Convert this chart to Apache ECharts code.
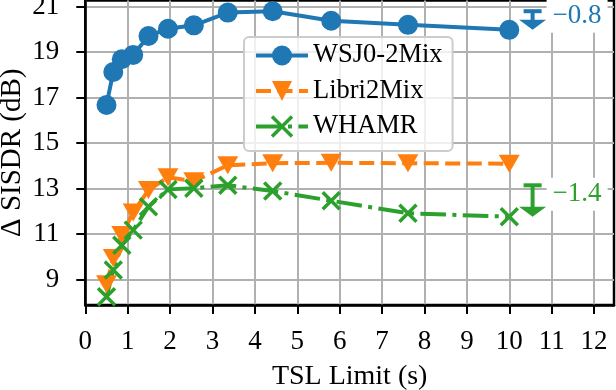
<!DOCTYPE html>
<html>
<head>
<meta charset="utf-8">
<script src="https://cdn.jsdelivr.net/npm/echarts@6/dist/echarts.min.js"></script>
<style>html,body{margin:0;padding:0;background:#fff}#c{width:616px;height:390px}</style>
</head>
<body>
<div id="c"></div>
<script>
const tslLimits = [0.5, 0.66, 0.86, 1.13, 1.49, 1.95, 2.56, 3.36, 4.42, 5.8, 7.61, 10];
const wsj0 = [16.68, 18.13, 18.69, 18.88, 19.71, 20.03, 20.18, 20.74, 20.8, 20.38, 20.2, 19.98];
const libri = [8.8, 9.95, 10.97, 11.96, 12.94, 13.5, 13.33, 14.03, 14.12, 14.14, 14.12, 14.1];
const whamr = [8.25, 9.43, 10.52, 11.18, 12.21, 12.97, 13.02, 13.15, 12.9, 12.47, 11.92, 11.77];
const seriesNames = ['WSJ0-2Mix', 'Libri2Mix', 'WHAMR'];
const xTicks = [0,1,2,3,4,5,6,7,8,9,10,11,12];
const yTicks = [9,11,13,15,17,19,21];
const annotX = 10.55;
const annotLabels = ['\u22120.8', '\u22121.4'];

const FONT = 'Liberation Serif';
const colors = ['#1f77b4', '#ff7f0e', '#2ca02c'];
const pts = ys => tslLimits.map((x, i) => [x, ys[i]]);

const annotData = [
  [annotX, Math.max(...wsj0), wsj0[wsj0.length - 1]],
  [annotX, Math.max(...whamr), whamr[whamr.length - 1]]
];
const annotColors = [colors[0], colors[2]];
const annotTextDy = [5, 9];

const chart = echarts.init(document.getElementById('c'), null, {renderer: 'canvas'});
chart.setOption({
  animation: false,
  grid: {left: 85.3, right: 2, top: 0.5, bottom: 85, outerBoundsMode: 'none', containLabel: false,
         show: true, borderColor: '#000', borderWidth: 2.5, backgroundColor: 'transparent'},
  xAxis: {
    type: 'value', min: 0, max: 12.47,
    name: 'TSL Limit (s)', nameLocation: 'middle', nameGap: 58,
    nameTextStyle: {fontFamily: FONT, fontSize: 28, color: '#000'},
    axisLine: {show: true, lineStyle: {color: '#000', width: 2.5}},
    axisTick: {show: true, length: 9, lineStyle: {color: '#000', width: 2}, customValues: xTicks},
    axisLabel: {fontFamily: FONT, fontSize: 27, color: '#000', margin: 23, customValues: xTicks},
    splitLine: {show: true, lineStyle: {color: '#b0b0b0', width: 2}}
  },
  yAxis: {
    type: 'value', min: 7.89, max: 21.27,
    name: '\u0394 SISDR (dB)', nameLocation: 'middle', nameGap: 58, nameMoveOverlap: false,
    nameTextStyle: {fontFamily: FONT, fontSize: 29, color: '#000'},
    axisLine: {show: true, lineStyle: {color: '#000', width: 2.5}},
    axisTick: {show: true, length: 9, lineStyle: {color: '#000', width: 2}, customValues: yTicks},
    axisLabel: {fontFamily: FONT, fontSize: 27, color: '#000', margin: 26, customValues: yTicks},
    splitLine: {show: true, lineStyle: {color: '#b0b0b0', width: 2}}
  },
  legend: {
    show: true, orient: 'vertical', left: 244, top: 37,
    data: seriesNames,
    itemWidth: 52, itemHeight: 25, itemGap: 8.5,
    padding: [5, 10, 11, 10],
    backgroundColor: 'rgba(255,255,255,0.8)', borderColor: '#cccccc', borderWidth: 2, borderRadius: 5,
    lineStyle: {width: 4},
    itemStyle: {borderWidth: 'inherit'},
    textStyle: {fontFamily: FONT, fontSize: 26.5, color: '#000', lineHeight: 26}
  },
  series: [
    {
      name: seriesNames[0], type: 'line', data: pts(wsj0),
      symbol: 'circle', symbolSize: 20,
      lineStyle: {color: colors[0], width: 4},
      itemStyle: {color: colors[0]}
    },
    {
      name: seriesNames[1], type: 'line', data: pts(libri),
      symbol: 'path://M0,0L2,0L1,1.7Z', symbolSize: [21, 18],
      lineStyle: {color: colors[1], width: 4, type: [15, 6.5]},
      itemStyle: {color: colors[1]}
    },
    {
      name: seriesNames[2], type: 'line', data: pts(whamr),
      symbol: 'path://M0,0L10,10M10,0L0,10', symbolSize: 17,
      lineStyle: {color: colors[2], width: 4, type: [25.6, 6.4, 4, 6.4]},
      itemStyle: {color: colors[2], borderColor: colors[2], borderWidth: 3.5}
    },
    {
      type: 'custom', data: annotData, clip: false, z: 5,
      renderItem: (params, api) => {
        const i = params.dataIndex;
        const c = annotColors[i];
        const p1 = api.coord([api.value(0), api.value(1)]);
        const p2 = api.coord([api.value(0), api.value(2)]);
        const headH = 10, headW = 27;
        return {
          type: 'group',
          children: [
            {type: 'rect', shape: {x: p1[0] - 9, y: p1[1] - 2, width: 18, height: 4}, style: {fill: c}},
            {type: 'line', shape: {x1: p1[0], y1: p1[1], x2: p2[0], y2: p2[1] - headH + 1}, style: {stroke: c, lineWidth: 4}},
            {type: 'polygon', shape: {points: [[p2[0] - headW / 2, p2[1] - headH], [p2[0] + headW / 2, p2[1] - headH], [p2[0], p2[1]]]}, style: {fill: c}},
            {type: 'text', x: p1[0] + 14, y: p1[1] + annotTextDy[i],
             style: {text: annotLabels[i], fill: c, fontFamily: FONT, fontSize: 27, align: 'left', verticalAlign: 'middle',
                     backgroundColor: '#fff', padding: [3, 6]}}
          ]
        };
      }
    }
  ]
});
</script>
</body>
</html>
